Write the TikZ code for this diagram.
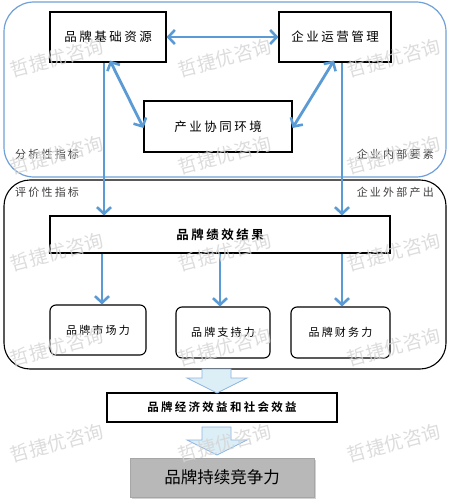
\documentclass[tikz,border=0pt]{standalone}
\usepackage{fontspec}
\newfontfamily\cjk{Noto Sans CJK SC}[LetterSpace=20]
\newfontfamily\cjkb{Noto Sans CJK SC}[LetterSpace=20,BoldFont={Noto Sans CJK SC Bold}]
\newfontfamily\cjkplain{Noto Sans CJK SC}
\usetikzlibrary{arrows.meta,calc,shadows}
\definecolor{arrblue}{HTML}{5B9BD5}
\definecolor{frameblue}{HTML}{6FA0D8}
\definecolor{blockfill}{HTML}{DCEEF6}
\definecolor{blockline}{HTML}{8DB4E2}
\definecolor{finalgray}{HTML}{B8B8B8}
\tikzset{
  mytip/.tip={Straight Barb[length=6.5pt,width=14pt,line width=2.6pt]},
  box/.style={draw=black,line width=1.1pt,fill=white,inner sep=0pt,font=\cjk\fontsize{12.5}{14}\selectfont},
  rbox/.style={box,rounded corners=6pt,font=\cjk\fontsize{11}{13}\selectfont},
  conn/.style={draw=arrblue,line width=2.8pt,-{mytip}},
  dconn/.style={draw=arrblue,line width=2.8pt,{mytip}-{mytip}},
  lab/.style={inner sep=0pt,font=\cjk\fontsize{11}{13}\selectfont,text=black!75},
  block/.style={draw=blockline,line width=0.8pt,fill=blockfill},
  wm/.style={inner sep=0pt,rotate=15,font=\cjkplain\fontsize{19}{20}\selectfont,text=black!17,opacity=0.8}
}
\begin{document}
\begin{tikzpicture}[x=1pt,y=-1pt]
\useasboundingbox (0,0) rectangle (450,503);
\fill[white] (0,0) rectangle (450,503);
% frames
\draw[frameblue,line width=1.2pt,rounded corners=30pt] (4,2) rectangle (446,177);
\draw[black,line width=1.1pt,rounded corners=26pt] (4,180) rectangle (446,369);
% top nodes
\node[box,minimum width=116pt,minimum height=50pt] (a) at (108,37) {品牌基础资源};
\node[box,minimum width=112pt,minimum height=50pt] (b) at (335,37) {企业运营管理};
\node[box,minimum width=148pt,minimum height=51pt] (c) at (218,126.5) {产业协同环境};
% labels
\node[lab,anchor=west] (l1) at (15,154) {分析性指标};
\node[lab,anchor=east] (l2) at (434,154) {企业内部要素};
\node[lab,anchor=west] (l3) at (15,192) {评价性指标};
\node[lab,anchor=east] (l4) at (434,192) {企业外部产出};
% performance
\node[box,minimum width=340pt,minimum height=37pt,font=\cjkb\bfseries\fontsize{12.5}{14}\selectfont] (p) at (220,234.5) {品牌绩效结果};
\node[rbox,minimum width=96pt,minimum height=50pt] (m) at (98,330) {品牌市场力};
\node[rbox,minimum width=94pt,minimum height=51pt] (s) at (223,332.5) {品牌支持力};
\node[rbox,minimum width=99pt,minimum height=51pt] (f) at (340.5,332.5) {品牌财务力};
% lower nodes
\node[box,minimum width=230pt,minimum height=29pt,font=\cjkb\bfseries\fontsize{11.5}{13}\selectfont] (e) at (222,407.5) {品牌经济效益和社会效益};
\node[draw=black!35,line width=0.8pt,fill=finalgray,inner sep=0pt,minimum width=184pt,minimum height=39pt,drop shadow={shadow xshift=1.5pt,shadow yshift=-1.5pt,opacity=0.35},font=\cjkplain\fontsize{16.5}{18}\selectfont] (g) at (222,477.5) {品牌持续竞争力};
% connectors top
\draw[dconn] (a.east) -- (b.west);
\draw[dconn] ([xshift=2pt,yshift=2pt]a.south) -- ([yshift=-1.5pt]c.west);
\draw[dconn] ([xshift=-1pt,yshift=2pt]b.south) -- ([yshift=-1.5pt]c.east);
\draw[conn] ([xshift=-4pt]a.south) -- ([xshift=-4pt]a.south |- p.north);
\draw[conn] ([xshift=7pt]b.south) -- ([xshift=7pt]b.south |- p.north);
% connectors down
\draw[conn] ([xshift=4pt]m.north |- p.south) -- ([xshift=4pt]m.north);
\draw[conn] ([xshift=-3pt]s.north |- p.south) -- ([xshift=-3pt]s.north);
\draw[conn] ([xshift=1.5pt]f.north |- p.south) -- ([xshift=1.5pt]f.north);
% block arrows
\draw[block] (202,369) -- (231,369) -- (231,378) -- (247,378) -- (217,393) -- (187,378) -- (202,378) -- cycle;
\draw[block] (202,427) -- (231,427) -- (231,440) -- (247,440) -- (217,455) -- (187,440) -- (202,440) -- cycle;
% watermarks
\foreach \yy in {58,155,252,347,443}{
  \foreach \xx in {57,225,394}{
    \node[wm] at (\xx,\yy) {哲捷优咨询};
  }
}
\end{tikzpicture}
\end{document}
